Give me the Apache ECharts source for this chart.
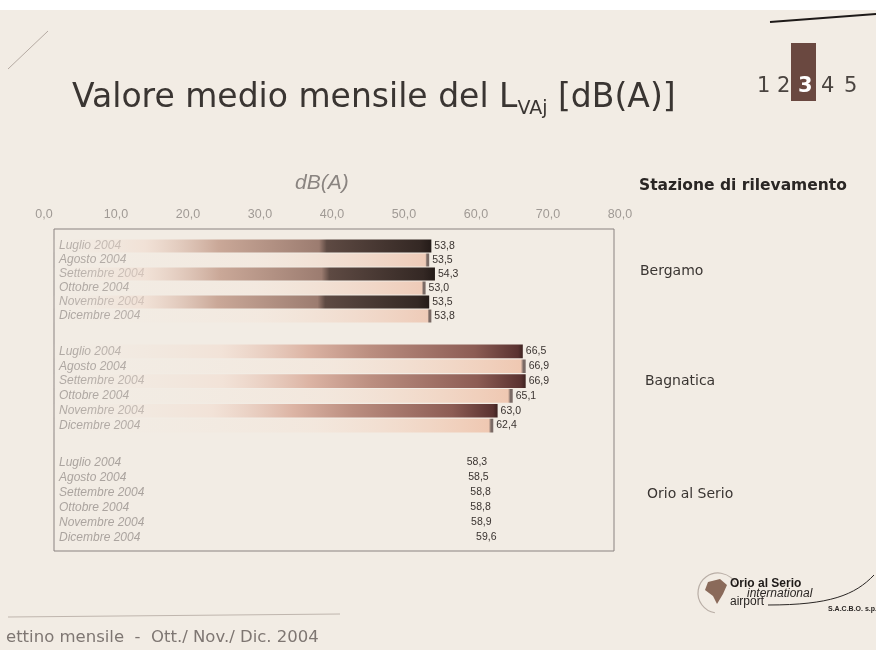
<!DOCTYPE html>
<html>
<head>
<meta charset="utf-8">
<script src="https://cdn.jsdelivr.net/npm/echarts@6/dist/echarts.min.js"></script>
<style>
html,body{margin:0;padding:0;background:#f2ece4;}
#c{width:876px;height:650px;}
</style>
</head>
<body>
<div id="c"></div>
<script>
// ---- data ----
const months = ['Luglio 2004','Agosto 2004','Settembre 2004','Ottobre 2004','Novembre 2004','Dicembre 2004'];
const stations = ['Bergamo','Bagnatica','Orio al Serio'];
const bergamo = [53.8, 53.5, 54.3, 53.0, 53.5, 53.8];
const bagnatica = [66.5, 66.9, 66.9, 65.1, 63.0, 62.4];
const orio = [58.3, 58.5, 58.8, 58.8, 58.9, 59.6];
const xTicks = [0,10,20,30,40,50,60,70,80];
const pages = ['1','2','3','4','5'];

// ---- styles ----
const BG0 = 'rgba(242,236,228,0)';
function grad(stops){
  return {type:'linear',x:0,y:0,x2:1,y2:0,colorStops:stops.map(s=>({offset:s[0],color:s[1]}))};
}
const darkBerg = grad([[0,BG0],[0.26,'rgba(240,218,205,0.6)'],[0.45,'#caa898'],[0.71,'#9c7c70'],[0.73,'#5e4a43'],[0.97,'#342824'],[1,'#241b18']]);
const lightBerg = grad([[0,BG0],[0.55,'rgba(244,228,216,0.4)'],[0.99,'#eecbb8'],[0.994,'#7a6a65'],[1,'#7a6a65']]);
const darkBag = grad([[0,BG0],[0.37,'rgba(242,220,207,0.6)'],[0.55,'#dcb4a4'],[0.68,'#bb8e80'],[0.9,'#8c5c54'],[0.99,'#5a3230'],[1,'#3e2220']]);
const lightBag = grad([[0,BG0],[0.6,'rgba(244,224,210,0.4)'],[0.99,'#efc8b2'],[0.995,'#7a6a65'],[1,'#7a6a65']]);
const groups = [
  {vals:bergamo, dark:darkBerg, light:lightBerg, top:239, h:84},
  {vals:bagnatica, dark:darkBag, light:lightBag, top:344, h:89},
  {vals:orio, dark:'rgba(0,0,0,0)', light:'rgba(0,0,0,0)', top:455, h:90}
];
const GL = 44, GR = 876-620;
const fmt = v => Number(v).toFixed(1).replace('.', ',');

const grid=[], xAxis=[], yAxis=[], series=[];
groups.forEach((g,i)=>{
  grid.push({left:GL, right:GR, top:g.top, height:g.h, containLabel:false});
  xAxis.push({
    type:'value', gridIndex:i, min:xTicks[0], max:xTicks[xTicks.length-1], interval:10,
    position:'top', show: i===0,
    axisLine:{show:false}, axisTick:{show:false}, splitLine:{show:false},
    axisLabel:{show:i===0, margin:18, color:'#a09a95', fontSize:12.5, fontFamily:'Liberation Sans, Arial, sans-serif', formatter:fmt}
  });
  yAxis.push({
    type:'category', gridIndex:i, data:months, inverse:true,
    axisLine:{show:false}, axisTick:{show:false}, splitLine:{show:false},
    axisLabel:{inside:true, interval:0, margin:15, color:'#aba49f', fontSize:12, fontStyle:'italic', fontFamily:'Liberation Sans, Arial, sans-serif'},
    z:0
  });
  series.push({
    type:'bar', xAxisIndex:i, yAxisIndex:i, barCategoryGap:'8%', z:3,
    data:g.vals.map((v,k)=>({value:v, itemStyle:{color:(k%2===0)?g.dark:g.light}})),
    label:{show:true, position:'right', distance:3, fontSize:10.5, color:'#3a3330',
      fontFamily:'Liberation Sans Narrow, Arial Narrow, sans-serif', formatter:p=>fmt(p.value)},
    animation:false
  });
});

const pageX = [757, 777, 798, 821, 844];
const graphic = [
  {type:'rect', shape:{x:0,y:0,width:876,height:10}, style:{fill:'#ffffff'}, z:-1},
  {type:'line', shape:{x1:8,y1:69,x2:48,y2:31}, style:{stroke:'#b5aaa2', lineWidth:1}},
  {type:'line', shape:{x1:770,y1:22,x2:876,y2:14}, style:{stroke:'#1e1a18', lineWidth:2}},
  {type:'text', left:72, top:82, style:{
    text:'{a|Valore medio mensile del L}{s|VAj}{a| [dB(A)]}',
    rich:{
      a:{fontSize:33, fontFamily:'DejaVu Sans', fill:'#3a3532', lineHeight:41},
      s:{fontSize:19, fontFamily:'DejaVu Sans', fill:'#3a3532', lineHeight:19, verticalAlign:'bottom'}
    }}},
  {type:'rect', shape:{x:791,y:43,width:25,height:58}, style:{fill:'#6a4840'}},
  ...pages.map((p,i)=>({type:'text', left:pageX[i], top:76, style:{text:p, fontSize:21,
      fontWeight: i===2 ? 'bold' : 'normal', fontFamily:'DejaVu Sans', fill: i===2 ? '#ffffff' : '#4a4440'}})),
  {type:'text', left:295, top:173, style:{text:'dB(A)', fontSize:21, fontStyle:'italic', fontFamily:'Liberation Sans, Arial, sans-serif', fill:'#8a8480'}},
  {type:'rect', shape:{x:54,y:229,width:560,height:322}, style:{fill:'none', stroke:'#8a8280', lineWidth:1}},
  {type:'text', left:639, top:178, style:{text:'Stazione di rilevamento', fontSize:15.5, fontWeight:'bold', fontFamily:'DejaVu Sans', fill:'#2a2624'}},
  {type:'text', left:640, top:264, style:{text:stations[0], fontSize:14, fontFamily:'DejaVu Sans', fill:'#3a3532'}},
  {type:'text', left:645, top:374, style:{text:stations[1], fontSize:14, fontFamily:'DejaVu Sans', fill:'#3a3532'}},
  {type:'text', left:647, top:487, style:{text:stations[2], fontSize:14, fontFamily:'DejaVu Sans', fill:'#3a3532'}},
  {type:'line', shape:{x1:8,y1:617,x2:340,y2:614}, style:{stroke:'#c0b6ae', lineWidth:1}},
  {type:'text', left:6, top:629, style:{text:'ettino mensile  -  Ott./ Nov./ Dic. 2004', fontSize:16.5, fontFamily:'DejaVu Sans', fill:'#7e7672'}},
  // logo
  {type:'arc', shape:{cx:718, cy:593, r:20, startAngle:Math.PI*0.55, endAngle:Math.PI*1.9}, style:{fill:'none', stroke:'#b9aea6', lineWidth:1.2}},
  {type:'polygon', shape:{points:[[708,582],[720,579],[727,585],[723,594],[717,604],[713,596],[705,590]]}, style:{fill:'#8a6a5a'}},
  {type:'text', left:730, top:578, style:{text:'Orio al Serio', fontSize:12, fontWeight:'bold', fontFamily:'Liberation Sans Narrow, Liberation Sans', fill:'#1e1a18'}},
  {type:'text', left:747, top:588, style:{text:'international', fontSize:12, fontStyle:'italic', fontFamily:'Liberation Sans', fill:'#2a2624'}},
  {type:'text', left:730, top:596, style:{text:'airport', fontSize:12, fontFamily:'Liberation Sans', fill:'#2a2624'}},
  {type:'bezierCurve', shape:{x1:768,y1:605,x2:874,y2:575,cpx1:830,cpy1:605,cpx2:855,cpy2:595}, style:{stroke:'#2a2624', lineWidth:1, fill:'none'}},
  {type:'text', left:828, top:606, style:{text:'S.A.C.B.O. s.p.a.', fontSize:7, fontWeight:'bold', fontFamily:'Liberation Sans Narrow, Liberation Sans', fill:'#2a2624'}}
];

const chart = echarts.init(document.getElementById('c'), null, {renderer:'canvas'});
chart.setOption({
  backgroundColor:'#f2ece4',
  animation:false,
  grid, xAxis, yAxis, series, graphic
});
</script>
</body>
</html>
